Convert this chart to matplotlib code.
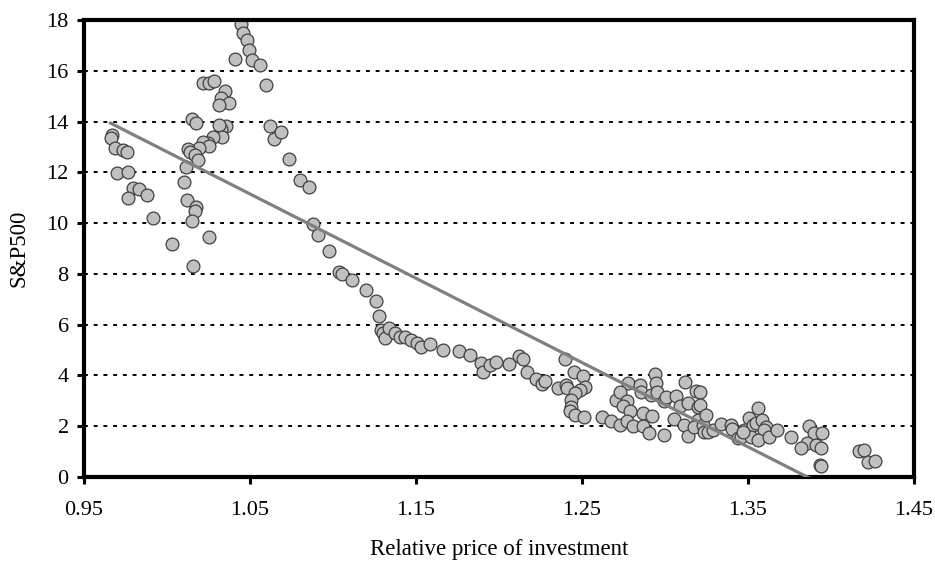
import numpy as np
import matplotlib.pyplot as plt

plt.rcParams['font.family'] = ['Liberation Serif', 'DejaVu Serif']

# Data
price = [
    1.0444, 1.0460, 1.0482, 1.0494, 1.0510, 1.0558, 1.0408, 1.0594, 1.0216, 1.0252,
    1.0282, 1.0350, 1.0326, 1.0376, 1.0312, 1.0152, 1.0176, 1.0356, 1.0326, 1.0316,
    1.0332, 1.0276, 1.0246, 1.0216, 1.0252, 1.0196, 1.0124, 1.0136, 1.0166, 1.0186,
    1.0116,
    0.9668, 0.9660, 0.9684, 0.9736, 0.9758, 0.9700, 0.9766, 0.9796, 0.9832, 0.9878,
    0.9768, 0.9914,
    1.0100, 1.0118, 1.0172, 1.0168, 1.0150, 1.0032, 1.0252, 1.0158,
    1.0618, 1.0642, 1.0688, 1.0738, 1.0802, 1.0855, 1.0882, 1.0912, 1.0978, 1.1037,
    1.1056, 1.1115, 1.1197, 1.1260, 1.1277, 1.1287, 1.1300, 1.1316, 1.1340, 1.1376,
    1.1406, 1.1436, 1.1472, 1.1507, 1.1532, 1.1585, 1.1661, 1.1761, 1.1827, 1.1891,
    1.1903, 1.1949, 1.1985, 1.2061, 1.2121, 1.2147, 1.2169, 1.2221, 1.2257, 1.2277,
    1.2357, 1.2397, 1.2407, 1.2413, 1.2455, 1.2507, 1.2521, 1.2487, 1.2457, 1.2433,
    1.2437, 1.2427, 1.2457, 1.2511, 1.2621, 1.2677, 1.2707,
    1.2938, 1.2948, 1.3124, 1.3189, 1.2777, 1.2853, 1.2857, 1.2727, 1.2773, 1.2747,
    1.2787, 1.2917, 1.2951, 1.2997, 1.3007, 1.3067, 1.3088, 1.3138, 1.3197, 1.2727,
    1.2773, 1.2807, 1.2867, 1.2921, 1.2867, 1.2907, 1.2993, 1.3057, 1.3117, 1.3138,
    1.3197, 1.3177, 1.3227, 1.3237,
    1.3209, 1.3209, 1.3248, 1.3257, 1.3287, 1.3341, 1.3397, 1.3403, 1.3438, 1.3458,
    1.3478, 1.3508, 1.3558, 1.3528, 1.3548, 1.3588, 1.3608, 1.3598, 1.3518, 1.3558,
    1.3628, 1.3678, 1.3758, 1.3468,
    1.3868, 1.3898, 1.3948, 1.3858, 1.3908, 1.3942, 1.3822, 1.3934, 1.3942, 1.4168,
    1.4198, 1.4222, 1.4268,
]
sp500 = [
    17.83, 17.47, 17.20, 16.81, 16.44, 16.23, 16.47, 15.43, 15.52, 15.50,
    15.59, 15.21, 14.91, 14.74, 14.65, 14.09, 13.93, 13.82, 13.70, 13.86,
    13.40, 13.40, 13.14, 13.20, 13.04, 12.97, 12.91, 12.81, 12.68, 12.48,
    12.22,
    13.49, 13.36, 12.97, 12.87, 12.81, 11.96, 12.00, 11.39, 11.33, 11.10,
    11.00, 10.22,
    11.63, 10.90, 10.62, 10.48, 10.07, 9.17, 9.44, 8.32,
    13.82, 13.33, 13.57, 12.51, 11.69, 11.41, 9.96, 9.53, 8.92, 8.06,
    7.98, 7.76, 7.36, 6.94, 6.34, 5.79, 5.68, 5.46, 5.85, 5.68,
    5.52, 5.52, 5.39, 5.29, 5.13, 5.22, 5.01, 4.97, 4.80, 4.50,
    4.12, 4.40, 4.54, 4.44, 4.76, 4.66, 4.15, 3.86, 3.66, 3.79,
    3.52, 4.65, 3.62, 3.49, 4.13, 3.98, 3.56, 3.43, 3.30, 3.03,
    2.77, 2.61, 2.44, 2.37, 2.37, 2.22, 3.03,
    4.04, 3.69, 3.73, 3.40, 3.71, 3.62, 3.36, 3.36, 3.00, 2.80,
    2.61, 3.23, 3.33, 2.99, 3.14, 3.20, 2.81, 2.90, 2.77, 2.05,
    2.20, 2.02, 2.51, 2.40, 2.01, 1.74, 1.65, 2.27, 2.05, 1.61,
    2.24, 1.96, 2.05, 1.78,
    3.36, 2.83, 2.44, 1.78, 1.85, 2.07, 2.05, 1.88, 1.52, 1.59,
    1.85, 2.31, 2.70, 2.05, 2.11, 2.24, 1.98, 1.85, 1.59, 1.46,
    1.59, 1.85, 1.59, 1.78,
    2.02, 1.74, 1.72, 1.35, 1.26, 1.13, 1.13, 0.47, 0.43, 1.02,
    1.06, 0.60, 0.64,
]

# linear trend as drawn on the chart
fit_intercept = 46.01
fit_slope = -33.2

x_ticks = [0.95, 1.05, 1.15, 1.25, 1.35, 1.45]
y_ticks = list(range(0, 19, 2))

fig = plt.figure(figsize=(9.35, 5.62), dpi=100)
ax = fig.add_axes([0.0898, 0.1512, 0.8876, 0.8132])

for yv in y_ticks[1:-1]:
    ax.axhline(yv, color='black', linestyle=(0, (2, 3)), linewidth=1.4, zorder=1)

ax.scatter(price, sp500, s=85, facecolor='#c0c0c0', edgecolor='#404040',
           linewidth=0.9, zorder=2)

xs = np.array([min(price), max(price)])
ax.plot(xs, fit_intercept + fit_slope * xs, color='#808080', linewidth=2.3, zorder=3)

ax.set_xlim(0.95, 1.45)
ax.set_ylim(0, 18)
ax.set_xticks(x_ticks)
ax.set_xticklabels([f'{v:.2f}' for v in x_ticks])
ax.set_yticks(y_ticks)
ax.tick_params(direction='out', length=5, width=2.2, labelsize=16)
ax.tick_params(axis='x', pad=12)
ax.tick_params(axis='y', pad=6)
for sp in ax.spines.values():
    sp.set_linewidth(3)

ax.set_xlabel('Relative price of investment', fontsize=16.5, labelpad=14)
ax.set_ylabel('S&P500', fontsize=16.5, labelpad=12)

fig.savefig('out.png', dpi=100)
